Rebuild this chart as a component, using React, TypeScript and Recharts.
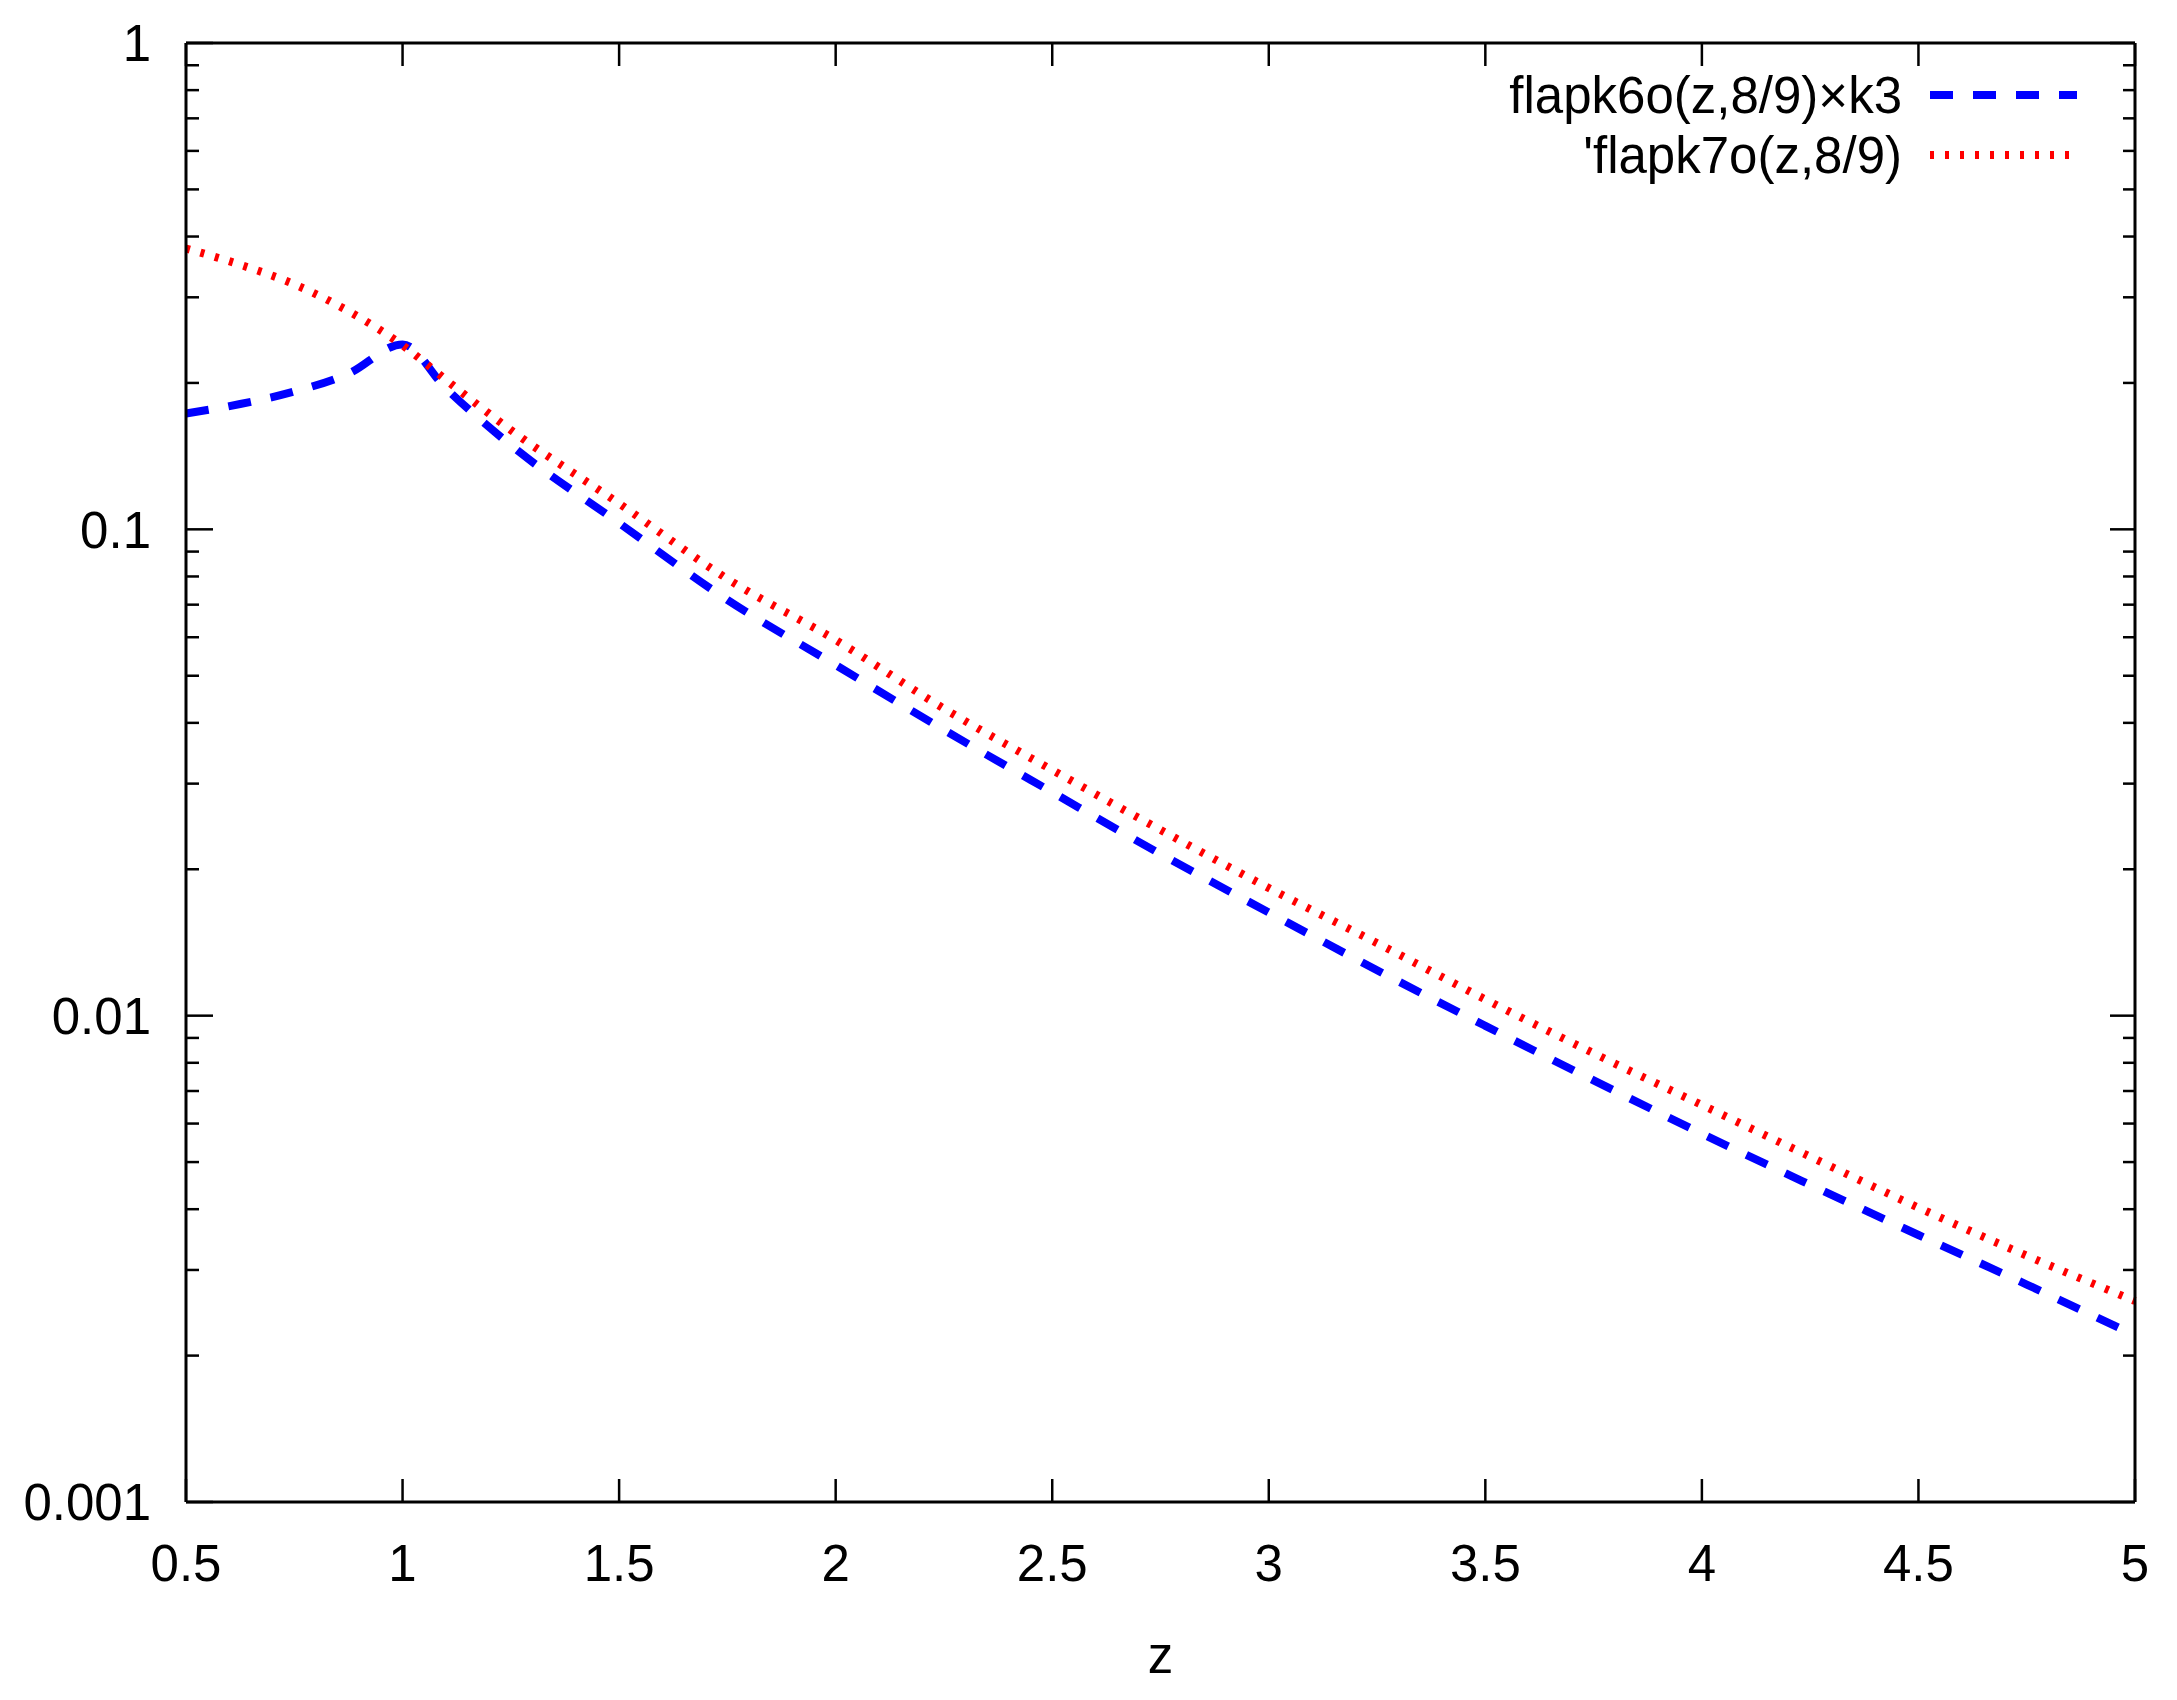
import { Legend, Line, LineChart, XAxis, YAxis } from "recharts";

const zValues = [0.5, 0.625, 0.75, 0.875, 1, 1.1, 1.25, 1.5, 1.75, 2, 2.25, 2.5, 2.75, 3, 3.25, 3.5, 3.75, 4, 4.25, 4.5, 4.75, 5];
const flapk6oK3 = [0.173, 0.181, 0.192, 0.209, 0.24, 0.195, 0.149, 0.103, 0.0716, 0.0526, 0.0387, 0.0288, 0.0215, 0.0163, 0.0124, 0.00953, 0.00736, 0.00572, 0.00449, 0.00354, 0.0028, 0.0022];
const flapk7o = [0.378, 0.35, 0.319, 0.281, 0.239, 0.203, 0.16, 0.113, 0.0791, 0.0592, 0.0428, 0.032, 0.0241, 0.0183, 0.0141, 0.0108, 0.00837, 0.00655, 0.00513, 0.00403, 0.00321, 0.00259];

const xTicks = [0.5, 1, 1.5, 2, 2.5, 3, 3.5, 4, 4.5, 5];
const xTickLabels = ["0.5", "1", "1.5", "2", "2.5", "3", "3.5", "4", "4.5", "5"];
const yTicks = [
  0.001, 0.002, 0.003, 0.004, 0.005, 0.006, 0.007, 0.008, 0.009,
  0.01, 0.02, 0.03, 0.04, 0.05, 0.06, 0.07, 0.08, 0.09,
  0.1, 0.2, 0.3, 0.4, 0.5, 0.6, 0.7, 0.8, 0.9, 1,
];
const yMajorTicks = [0.001, 0.01, 0.1, 1];
const yTickLabels = ["0.001", "0.01", "0.1", "1"];

const seriesNames = ["flapk6o(z,8/9)\u00d7k3", "'flapk7o(z,8/9)"];

const FONT = "'Liberation Sans', Arial, sans-serif";
const FONT_SIZE = 51;
const BLUE = "#0000ff";
const RED = "#ff0000";
const BLUE_DASH = "23 20";
const RED_DASH = "4 11";

const data = zValues.map((z, i) => ({ z, k6: flapk6oK3[i], k7: flapk7o[i] }));

function BottomTick({ x, y, payload }: any) {
  const i = xTicks.indexOf(payload.value);
  return (
    <g>
      <line x1={x} x2={x} y1={y} y2={y - 23} stroke="#000" strokeWidth={2.5} />
      <text x={x} y={y + 79} textAnchor="middle" fontFamily={FONT} fontSize={FONT_SIZE} fill="#000">
        {xTickLabels[i]}
      </text>
    </g>
  );
}

function TopTick({ x, y }: any) {
  return <line x1={x} x2={x} y1={y} y2={y + 23} stroke="#000" strokeWidth={2.5} />;
}

function LeftTick({ x, y, payload }: any) {
  const i = yMajorTicks.indexOf(payload.value);
  const len = i >= 0 ? 27 : 13;
  return (
    <g>
      <line x1={x} x2={x + len} y1={y} y2={y} stroke="#000" strokeWidth={2.5} />
      {i >= 0 && (
        <text x={x - 35} y={y} dy="0.36em" textAnchor="end" fontFamily={FONT} fontSize={FONT_SIZE} fill="#000">
          {yTickLabels[i]}
        </text>
      )}
    </g>
  );
}

function RightTick({ x, y, payload }: any) {
  const len = yMajorTicks.includes(payload.value) ? 25 : 12;
  return <line x1={x} x2={x - len} y1={y} y2={y} stroke="#000" strokeWidth={2.5} />;
}

function Key() {
  const rows = [
    { name: seriesNames[0], color: BLUE, dash: BLUE_DASH, cy: 45 },
    { name: seriesNames[1], color: RED, dash: RED_DASH, cy: 105 },
  ];
  return (
    <svg width={700} height={150}>
      {rows.map((r) => (
        <g key={r.name}>
          <text x={452} y={r.cy} dy="0.36em" textAnchor="end" fontFamily={FONT} fontSize={FONT_SIZE} fill="#000">
            {r.name}
          </text>
          <line x1={480} x2={627} y1={r.cy} y2={r.cy} stroke={r.color} strokeWidth={8} strokeDasharray={r.dash} />
        </g>
      ))}
    </svg>
  );
}

export default function App() {
  return (
    <div style={{ position: "absolute", left: 0, top: 0, background: "#fff" }}>
      <LineChart width={2177} height={1700} data={data} margin={{ top: 0, right: 0, bottom: 0, left: 0 }}>
        <XAxis
          xAxisId="b"
          dataKey="z"
          type="number"
          domain={[0.5, 5]}
          ticks={xTicks}
          interval={0}
          height={198}
          tickSize={0}
          tickMargin={0}
          tickLine={false}
          axisLine={{ stroke: "#000", strokeWidth: 3 }}
          tick={<BottomTick />}
          label={{ value: "z", position: "insideBottom", offset: 27, fontFamily: FONT, fontSize: FONT_SIZE, fill: "#000" }}
        />
        <XAxis
          xAxisId="t"
          orientation="top"
          dataKey="z"
          type="number"
          domain={[0.5, 5]}
          ticks={xTicks}
          interval={0}
          height={43}
          tickSize={0}
          tickMargin={0}
          tickLine={false}
          axisLine={{ stroke: "#000", strokeWidth: 3 }}
          tick={<TopTick />}
        />
        <YAxis
          yAxisId="l"
          scale="log"
          domain={[0.001, 1]}
          allowDataOverflow
          ticks={yTicks}
          interval={0}
          width={186}
          tickSize={0}
          tickMargin={0}
          tickLine={false}
          axisLine={{ stroke: "#000", strokeWidth: 3 }}
          tick={<LeftTick />}
        />
        <YAxis
          yAxisId="r"
          orientation="right"
          scale="log"
          domain={[0.001, 1]}
          allowDataOverflow
          ticks={yTicks}
          interval={0}
          width={42}
          tickSize={0}
          tickMargin={0}
          tickLine={false}
          axisLine={{ stroke: "#000", strokeWidth: 3 }}
          tick={<RightTick />}
        />
        <Legend
          layout="horizontal"
          verticalAlign="middle"
          content={() => <Key />}
          wrapperStyle={{ position: "absolute", left: 1450, top: 50, width: 700, height: 150 }}
        />
        <Line
          xAxisId="b"
          yAxisId="l"
          type="monotone"
          dataKey="k6"
          name={seriesNames[0]}
          stroke={BLUE}
          strokeWidth={8}
          strokeDasharray={BLUE_DASH}
          dot={false}
          activeDot={false}
          isAnimationActive={false}
        />
        <Line
          xAxisId="t"
          yAxisId="r"
          type="monotone"
          dataKey="k7"
          name={seriesNames[1]}
          stroke={RED}
          strokeWidth={8}
          strokeDasharray={RED_DASH}
          dot={false}
          activeDot={false}
          isAnimationActive={false}
        />
      </LineChart>
    </div>
  );
}
